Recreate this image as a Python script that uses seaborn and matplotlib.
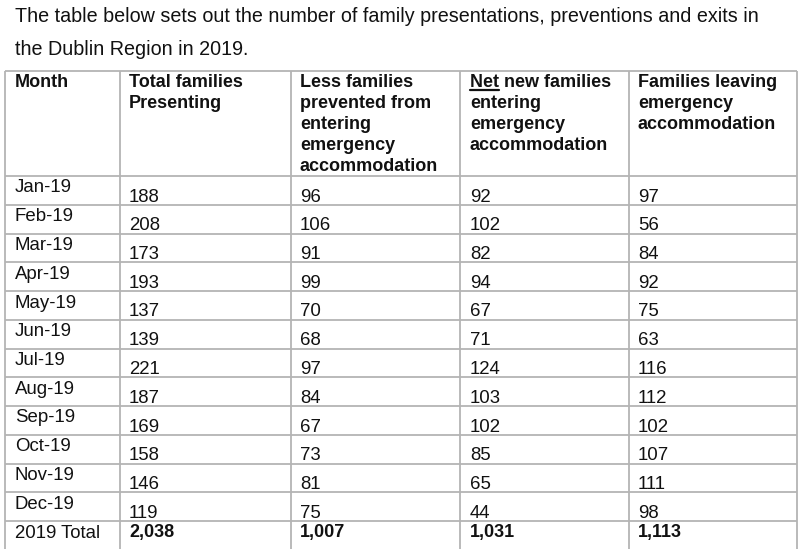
import matplotlib
matplotlib.use("Agg")
import matplotlib.pyplot as plt
import seaborn as sns

sns.set_theme(style="white")
plt.rcParams['font.family'] = ['Liberation Sans', 'DejaVu Sans']

title_lines = ["The table below sets out the number of family presentations, preventions and exits in",
               "the Dublin Region in 2019."]
headers = [["Month"],
           ["Total families", "Presenting"],
           ["Less families", "prevented from", "entering", "emergency", "accommodation"],
           ["Net new families", "entering", "emergency", "accommodation"],
           ["Families leaving", "emergency", "accommodation"]]
months = ["Jan-19", "Feb-19", "Mar-19", "Apr-19", "May-19", "Jun-19",
          "Jul-19", "Aug-19", "Sep-19", "Oct-19", "Nov-19", "Dec-19"]
total_presenting = [188, 208, 173, 193, 137, 139, 221, 187, 169, 158, 146, 119]
prevented = [96, 106, 91, 99, 70, 68, 97, 84, 67, 73, 81, 75]
net_new = [92, 102, 82, 94, 67, 71, 124, 103, 102, 85, 65, 44]
leaving = [97, 56, 84, 92, 75, 63, 116, 112, 102, 107, 111, 98]
total_label = "2019 Total"
totals = ["2,038", "1,007", "1,031", "1,113"]

W, H = 800, 549
fig = plt.figure(figsize=(W / 100, H / 100), dpi=100)
ax = fig.add_axes([0, 0, 1, 1])
ax.set_xlim(0, W)
ax.set_ylim(H, 0)
ax.axis('off')

txt_color = "#111111"
grid_color = "#b4b4b4"
fs = 13
fs_reg = 13.4
fs_title = 14.2

col_edges = [5, 120, 291, 460, 629, 797]
table_top = 71
header_bottom = 176
row_h = (521 - header_bottom) / 12
row_tops = [header_bottom + i * row_h for i in range(13)]

# title
for i, line in enumerate(title_lines):
    ax.text(15, 22 + i * 33, line, fontsize=fs_title, color=txt_color, va='baseline', ha='left')

# grid
for x in col_edges:
    ax.plot([x, x], [table_top, H + 2], color=grid_color, lw=1.3, solid_capstyle='butt')
for y in [table_top] + row_tops:
    ax.plot([col_edges[0], col_edges[-1]], [y, y], color=grid_color, lw=1.3, solid_capstyle='butt')

# headers
pad_x = [10, 9, 9, 10, 9]
fig.canvas.draw()
renderer = fig.canvas.get_renderer()
for c, lines in enumerate(headers):
    x0 = col_edges[c] + pad_x[c]
    for j, line in enumerate(lines):
        y = 87 + j * 21
        ax.text(x0, y, line, fontsize=fs, fontweight='bold', color=txt_color, va='baseline', ha='left')
        if c == 3 and j == 0:
            m = ax.text(x0, y, "Net", fontsize=fs, fontweight='bold', alpha=0, va='baseline', ha='left')
            bb = m.get_window_extent(renderer=renderer)
            ax.plot([x0, x0 + bb.width], [y + 3, y + 3], color=txt_color, lw=1.6)

# data rows
series = [total_presenting, prevented, net_new, leaving]
for i, mth in enumerate(months):
    top = row_tops[i]
    ax.text(col_edges[0] + pad_x[0], top + 16.5, mth, fontsize=fs_reg, color=txt_color, va='baseline', ha='left')
    for c, s in enumerate(series):
        ax.text(col_edges[c + 1] + pad_x[c + 1], top + 25.5, str(s[i]), fontsize=fs_reg,
                color=txt_color, va='baseline', ha='left')

top = row_tops[12]
ax.text(col_edges[0] + pad_x[0], top + 17, total_label, fontsize=fs_reg, color=txt_color, va='baseline', ha='left')
for c, v in enumerate(totals):
    ax.text(col_edges[c + 1] + pad_x[c + 1], top + 16.5, v, fontsize=fs, fontweight='bold',
            color=txt_color, va='baseline', ha='left')

fig.savefig("out.png", dpi=100, facecolor='white')
